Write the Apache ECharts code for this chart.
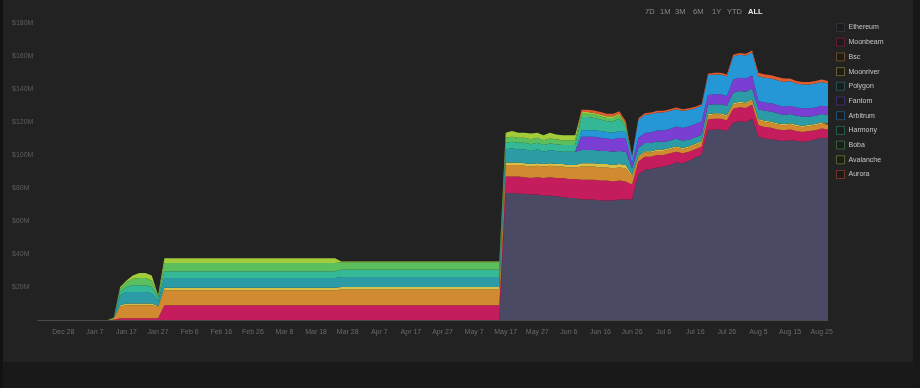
<!DOCTYPE html>
<html>
<head>
<meta charset="utf-8">
<script src="https://cdn.jsdelivr.net/npm/echarts@6/dist/echarts.min.js"></script>
<style>
html,body{margin:0;padding:0;background:#1a1a1a;}
#c{width:920px;height:388px;}
</style>
</head>
<body>
<div id="c"></div>
<script>
// ---- categories (every 2 days) ----
const categories = [
'Dec 20','Dec 22','Dec 24','Dec 26','Dec 28','Dec 30',
'Jan 1','Jan 3','Jan 5','Jan 7','Jan 9','Jan 11','Jan 13','Jan 15','Jan 17','Jan 19','Jan 21','Jan 23','Jan 25','Jan 27','Jan 29','Jan 31',
'Feb 2','Feb 4','Feb 6','Feb 8','Feb 10','Feb 12','Feb 14','Feb 16','Feb 18','Feb 20','Feb 22','Feb 24','Feb 26','Feb 28',
'Mar 2','Mar 4','Mar 6','Mar 8','Mar 10','Mar 12','Mar 14','Mar 16','Mar 18','Mar 20','Mar 22','Mar 24','Mar 26','Mar 28','Mar 30',
'Apr 1','Apr 3','Apr 5','Apr 7','Apr 9','Apr 11','Apr 13','Apr 15','Apr 17','Apr 19','Apr 21','Apr 23','Apr 25','Apr 27','Apr 29',
'May 1','May 3','May 5','May 7','May 9','May 11','May 13','May 15','May 17','May 19','May 21','May 23','May 25','May 27','May 29','May 31',
'Jun 2','Jun 4','Jun 6','Jun 8','Jun 10','Jun 12','Jun 14','Jun 16','Jun 18','Jun 20','Jun 22','Jun 24','Jun 26','Jun 28','Jun 30',
'Jul 2','Jul 4','Jul 6','Jul 8','Jul 10','Jul 12','Jul 14','Jul 16','Jul 18','Jul 20','Jul 22','Jul 24','Jul 26','Jul 28','Jul 30',
'Aug 1','Aug 3','Aug 5','Aug 7','Aug 9','Aug 11','Aug 13','Aug 15','Aug 17','Aug 19','Aug 21','Aug 23','Aug 25','Aug 27'
];
const tickLabels = ['Dec 28','Jan 7','Jan 17','Jan 27','Feb 6','Feb 16','Feb 26','Mar 8','Mar 18','Mar 28','Apr 7','Apr 17','Apr 27','May 7','May 17','May 27','Jun 6','Jun 16','Jun 26','Jul 6','Jul 16','Jul 26','Aug 5','Aug 15','Aug 25'];
const yTicks = [0,20,40,60,80,100,120,140,160,180];
const rangeButtons = ['7D','1M','3M','6M','1Y','YTD','ALL'];

// ---- series values ($M) ----
const ethereum = [
0,0,0,0,0,0,0,0,0,0,0,0,
0,0,0,0,0,0,0,0,
0,0,0,0,0,0,0,0,0,0,0,0,0,0,0,0,0,0,0,0,0,0,0,0,0,0,0,0,
0,0,0,0,0,0,0,0,0,0,0,0,0,0,0,0,0,0,0,0,0,0,0,0,0,0,
77,77,76.5,76.5,76,76,75.5,75.5,75,74.5,74,74,
73,73,73,72.5,72.5,72.5,73,73,
73,
88,91,91.5,92.5,93,94,95.5,95,96.5,98.5,100,
115,115.5,115.5,114.5,
119.5,120.5,120,122,
111,110,109.5,109,108.5,109,108.5,108,108.5,109.5,110.5,110];
const moonbeam = [
0,0,0,0,0,0,0,0,0,0,0,0,
0.2,1,1,1,1,1,1,1,
9,9,9,9,9,9,9,9,9,9,9,9,9,9,9,9,9,9,9,9,9,9,9,9,9,9,9,9,
9,9,9,9,9,9,9,9,9,9,9,9,9,9,9,9,9,9,9,9,9,9,9,9,9,9,
10,10,10.5,10,10,10.5,10.5,11,11,11.5,11.5,11.5,
12,12,12,12,12,11.5,11.5,11,
9,
8,8,7.5,7.5,7,7,6.5,6,5.5,5,5,
6.5,6.5,6.5,6.5,
8.5,8.5,8.5,8.5,
7,7,7,6.5,6.5,6.5,6,6,6,5.5,5.5,5.5];
const bsc = [
0,0,0,0,0,0,0,0,0,0,0,0,
1,7,8,8,8,8,8,7,
9,9,9,9,9,9,9,9,9,9,9,9,9,9,9,9,9,9,9,9,9,9,9,9,9,9,9,9,
9.5,9.5,9.5,9.5,9.5,9.5,9.5,9.5,9.5,9.5,9.5,9.5,9.5,9.5,9.5,9.5,9.5,9.5,9.5,9.5,9.5,9.5,9.5,9.5,9.5,9.5,
7,7,7,7,7,7,7,7,7,7,7,7,
8,8,8,8,8,8,8,8,
5,
2.5,2.5,2.5,2.5,2.5,2.5,2.5,2.5,2.5,2.5,2.5,
2.5,2.5,2.5,2.5,
2.5,2.5,2.5,2.5,
3,3,3,3,3,3,3,3,3,3,3,3];
const moonriver = [
0,0,0,0,0,0,0,0,0,0,0,0,
0,1,1,1,1,1,1,0.5,
1.5,1.5,1.5,1.5,1.5,1.5,1.5,1.5,1.5,1.5,1.5,1.5,1.5,1.5,1.5,1.5,1.5,1.5,1.5,1.5,1.5,1.5,1.5,1.5,1.5,1.5,1.5,1.5,
1.5,1.5,1.5,1.5,1.5,1.5,1.5,1.5,1.5,1.5,1.5,1.5,1.5,1.5,1.5,1.5,1.5,1.5,1.5,1.5,1.5,1.5,1.5,1.5,1.5,1.5,
1.5,1.5,1.5,1.5,1.5,1.5,1.5,1.5,1.5,1.5,1.5,1.5,
2,2,2,2,2,2,2,2,
1,
0.8,0.8,0.8,0.8,0.8,0.8,0.8,0.8,0.8,0.8,0.8,
0.8,0.8,0.8,0.8,
0.8,0.8,0.8,0.8,
0.8,0.8,0.8,0.8,0.8,0.8,0.8,0.8,0.8,0.8,0.8,0.8];
const polygon = [
0,0,0,0,0,0,0,0,0,0,0,0,
0.5,6,7,7,7,7,6,3,
6,6,6,6,6,6,6,6,6,6,6,6,6,6,6,6,6,6,6,6,6,6,6,6,6,6,6,6,
6,6,6,6,6,6,6,6,6,6,6,6,6,6,6,6,6,6,6,6,6,6,6,6,6,6,
8,8.5,8,8.5,8,8.5,7.5,8,8,7.5,8,8,
8,8,8,8,8,8,8,8,
4,
5,5,5,5,4.5,4.5,4.5,4.5,4,4,4,
5.5,5.5,5.5,5.5,
6.5,6.5,6.5,6.5,
6,6,6,6,5.5,5.5,5.5,5.5,5,5,5,5];
const fantom = [
0,0,0,0,0,0,0,0,0,0,0,0,
0,0,0,0,0,0,0,0,
0,0,0,0,0,0,0,0,0,0,0,0,0,0,0,0,0,0,0,0,0,0,0,0,0,0,0,0,
0,0,0,0,0,0,0,0,0,0,0,0,0,0,0,0,0,0,0,0,0,0,0,0,0,0,
0,0,0,0,0,0,0,0,0,0,0,0,
8,8,8,8,7.5,7.5,8,8,
3,
6,6,6.5,6.5,7,7,7.5,7.5,8,8,8,
6,6,6,6,
8,8,8,8,
5,5,5,5,5,5,5,5,5,5,5,5];
const arbitrum = [
0,0,0,0,0,0,0,0,0,0,0,0,
0,0,0,0,0,0,0,0,
0,0,0,0,0,0,0,0,0,0,0,0,0,0,0,0,0,0,0,0,0,0,0,0,0,0,0,0,
0,0,0,0,0,0,0,0,0,0,0,0,0,0,0,0,0,0,0,0,0,0,0,0,0,0,
0,0,0,0,0,0,0,0,0,0,0,0,
4,4,4,4,4,4,4,4,
4,
11,11,11,11,11,11,10.5,10.5,10,9.5,9.5,
12,12,12,12,
14,14,14,14,
15,15,15,15,15,15,14.5,14.5,14.5,14.5,14.5,14];
const harmony = [
0,0,0,0,0,0,0,0,0,0,0,0,
0,2,3,4,4,4,4,2,
4,4,4,4,4,4,4,4,4,4,4,4,4,4,4,4,4,4,4,4,4,4,4,4,4,4,4,4,
4.5,4.5,4.5,4.5,4.5,4.5,4.5,4.5,4.5,4.5,4.5,4.5,4.5,4.5,4.5,4.5,4.5,4.5,4.5,4.5,4.5,4.5,4.5,4.5,4.5,4.5,
4,4,4,4,4,4,4,4,4,4,4,4,
8,8,7.5,7,6.5,7,7.5,3,
0,
0,0,0,0,0,0,0,0,0,0,0,
0,0,0,0,
0,0,0,0,
0,0,0,0,0,0,0,0,0,0,0,0];
const boba = [
0,0,0,0,0,0,0,0,0,0,0,0,
0,2,3,4,4.5,4.5,4,1,
5,5,5,5,5,5,5,5,5,5,5,5,5,5,5,5,5,5,5,5,5,5,5,5,5,5,5,5,
4.5,4.5,4.5,4.5,4.5,4.5,4.5,4.5,4.5,4.5,4.5,4.5,4.5,4.5,4.5,4.5,4.5,4.5,4.5,4.5,4.5,4.5,4.5,4.5,4.5,4.5,
3,3,3,3,3,3,3,3,3,3,3,3,
2,2,2,2,2,2,2,1,
0,
0,0,0,0,0,0,0,0,0,0,0,
0,0,0,0,
0,0,0,0,
0,0,0,0,0,0,0,0,0,0,0,0];
const avalanche = [
0,0,0,0,0,0,0,0,0,0,0,0,
0,1,1,2,3,3,3,0.5,
3,3,3,3,3,3,3,3,3,3,3,3,3,3,3,3,3,3,3,3,3,3,3,3,3,3,3,3,
0.5,0.5,0.5,0.5,0.5,0.5,0.5,0.5,0.5,0.5,0.5,0.5,0.5,0.5,0.5,0.5,0.5,0.5,0.5,0.5,0.5,0.5,0.5,0.5,0.5,0.5,
3,3.5,3,3,3.5,3,3,3.5,3,3,3,3,
1,1,1,1,1,1,1,1,
0,
0,0,0,0,0,0,0,0,0,0,0,
0,0,0,0,
0,0,0,0,
0,0,0,0,0,0,0,0,0,0,0,0];
const aurora = [
0,0,0,0,0,0,0,0,0,0,0,0,
0,0,0,0,0,0,0,0,
0,0,0,0,0,0,0,0,0,0,0,0,0,0,0,0,0,0,0,0,0,0,0,0,0,0,0,0,
0,0,0,0,0,0,0,0,0,0,0,0,0,0,0,0,0,0,0,0,0,0,0,0,0,0,
0,0,0,0,0,0,0,0,0,0,0,0,
1.5,1.5,1.5,1.5,1.5,1.5,1.5,1.5,
0.5,
1,1,1,1,1,1,1,1,1,1,1,
1,1,1,1,
1,1,1,1,
2,2,2,2,2,1.5,1.5,1.5,1.5,1.5,1.5,1.5];

const seriesNames = ['Ethereum','Moonbeam','Bsc','Moonriver','Polygon','Fantom','Arbitrum','Harmony','Boba','Avalanche','Aurora'];
const seriesData = [ethereum,moonbeam,bsc,moonriver,polygon,fantom,arbitrum,harmony,boba,avalanche,aurora];
const seriesColors = ['#4b4a65','#c41c5c','#d18a2f','#d8c048','#2b9ca6','#7a3fd2','#2596d6','#34b895','#5abf5c','#a3cc3b','#e35a2f'];

function dim(hex, a){
  const r=parseInt(hex.slice(1,3),16),g=parseInt(hex.slice(3,5),16),b=parseInt(hex.slice(5,7),16);
  return 'rgba('+r+','+g+','+b+','+a+')';
}

const chart = echarts.init(document.getElementById('c'), null, {renderer:'canvas'});

const btnX = [645,660,675,693,712,727,748];
const graphics = [
  {type:'rect', shape:{x:0,y:362,width:920,height:26}, style:{fill:'#191919'}, z:-10, silent:true},
  {type:'rect', shape:{x:0,y:0,width:3,height:388}, style:{fill:'#121212'}, z:-10, silent:true},
  {type:'rect', shape:{x:913,y:0,width:7,height:388}, style:{fill:'#181818'}, z:-10, silent:true}
];
rangeButtons.forEach((t,i)=>{
  graphics.push({type:'text', left:btnX[i], top:8, silent:true,
    style:{text:t, fill: t==='ALL' ? '#e8e8e8' : '#8a8a8a', font:(t==='ALL'?'bold ':'')+'7.5px "Liberation Sans", Arial, sans-serif'}});
});

chart.setOption({
  backgroundColor:'#222222',
  animation:false,
  graphic: graphics,
  grid:{left:38, right:92, top:23, bottom:68},
  legend:{
    orient:'vertical', left:836, top:19, padding:[4,5,4,0],
    itemWidth:8, itemHeight:8, itemGap:5.7,
    icon:'rect',
    textStyle:{color:'#c8c8c8', fontSize:7, fontFamily:'"Liberation Sans", Arial, sans-serif', lineHeight:8, padding:[0,0,0,-1]},
    data: seriesNames.map((n,i)=>({name:n, itemStyle:{color:'#1c1c1c', borderColor:dim(seriesColors[i],0.4), borderWidth:1}}))
  },
  xAxis:{
    type:'category', boundaryGap:false, data:categories,
    axisLine:{show:true, lineStyle:{color:'#4a4a4a', width:1}},
    axisTick:{show:false},
    axisLabel:{
      interval:(idx, val)=>tickLabels.indexOf(val) >= 0,
      color:'#6a6a6a', fontSize:7, margin:9, fontFamily:'"Liberation Sans", Arial, sans-serif'
    },
    splitLine:{show:false}
  },
  yAxis:{
    type:'value', min:yTicks[0], max:yTicks[yTicks.length-1], interval:20,
    axisLine:{show:false}, axisTick:{show:false},
    splitLine:{show:false},
    axisLabel:{
      formatter:v => v===0 ? '' : '$'+v+'M',
      color:'#5e5e5e', fontSize:7, align:'left', margin:26, fontFamily:'"Liberation Sans", Arial, sans-serif'
    }
  },
  series: seriesNames.map((n,i)=>({
    name:n, type:'line', stack:'total', data:seriesData[i],
    symbol:'none', showSymbol:false, smooth:false,
    lineStyle:{width:0},
    itemStyle:{color:seriesColors[i]},
    areaStyle:{color:seriesColors[i], opacity:1},
    emphasis:{disabled:true}
  }))
});
</script>
</body>
</html>
